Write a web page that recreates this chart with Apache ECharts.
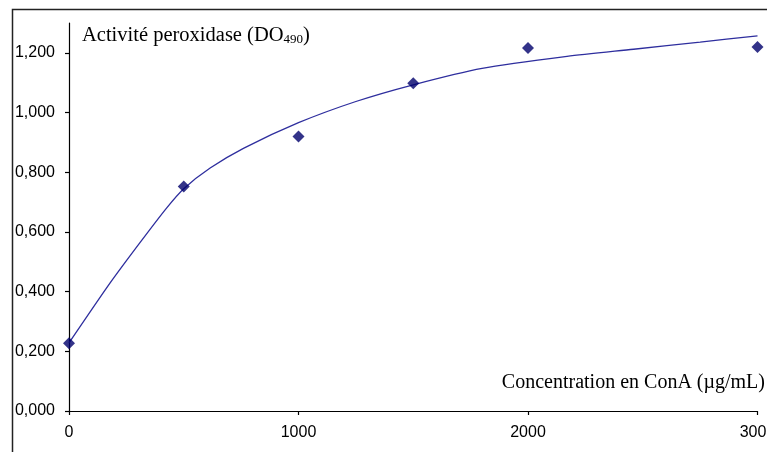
<!DOCTYPE html>
<html>
<head>
<meta charset="utf-8">
<script src="https://cdn.jsdelivr.net/npm/echarts@6/dist/echarts.min.js"></script>
<style>
html,body{margin:0;padding:0;background:#fff;}
#chart{width:767px;height:452px;}
</style>
</head>
<body>
<div id="chart"></div>
<script>
// Measured points (ConA concentration, peroxidase activity DO490)
var concX = [0, 500, 1000, 1500, 2000, 3000];
var activityY = [0.227, 0.752, 0.920, 1.098, 1.216, 1.220];
// Fitted curve
var curveX = [0, 180, 310, 425, 500, 615, 760, 1000, 1250, 1500, 1800, 2170, 2460, 2750, 3000];
var curveY = [0.228, 0.430, 0.565, 0.680, 0.745, 0.814, 0.880, 0.966, 1.037, 1.093, 1.148, 1.188, 1.212, 1.236, 1.257];
var yTicks = [0, 0.2, 0.4, 0.6, 0.8, 1.0, 1.2];
var xTicks = [0, 1000, 2000, 3000];
var yTitle = 'Activité peroxidase (DO';
var ySub = '490';
var xTitle = 'Concentration en ConA (µg/mL)';

var chart = echarts.init(document.getElementById('chart'), null, {renderer: 'canvas'});
var curveData = curveX.map(function (x, i) { return [x, curveY[i]]; });
var pointData = concX.map(function (x, i) { return [x, activityY[i]]; });

chart.setOption({
  animation: false,
  backgroundColor: '#fff',
  grid: {left: 69, right: 9.5, top: 23, bottom: 41, containLabel: false, outerBoundsMode: 'none'},
  xAxis: {
    type: 'value', min: 0, max: 3000, interval: 1000,
    splitLine: {show: false},
    axisLine: {show: true, onZero: false, lineStyle: {color: '#000', width: 1.2}},
    axisTick: {show: true, inside: false, length: 4, lineStyle: {color: '#000', width: 1.2}, customValues: xTicks},
    axisLabel: {show: true, margin: 14, color: '#000', fontFamily: 'Liberation Sans', fontSize: 16,
      customValues: xTicks, showMaxLabel: true, hideOverlap: false,
      formatter: function (v) { return String(v); }}
  },
  yAxis: {
    type: 'value', min: 0, max: 1.3,
    splitLine: {show: false},
    axisLine: {show: true, onZero: false, lineStyle: {color: '#000', width: 1.2}},
    axisTick: {show: true, inside: false, length: 4, lineStyle: {color: '#000', width: 1.2}, customValues: yTicks},
    axisLabel: {show: true, margin: 14, color: '#000', fontFamily: 'Liberation Sans', fontSize: 16,
      customValues: yTicks,
      formatter: function (v) { return v.toFixed(3).replace('.', ','); }}
  },
  graphic: [
    {type: 'rect', shape: {x: 12.5, y: 9.5, width: 900, height: 600}, style: {fill: null, stroke: '#222', lineWidth: 1.5}, silent: true, z: 100},
    {type: 'text', left: 82, top: 25, z: 100,
      style: {
        text: '{a|' + yTitle + '}{s|' + ySub + '}{a|)}',
        rich: {
          a: {fontFamily: 'Liberation Serif', fontSize: 20.5, fill: '#000', verticalAlign: 'bottom', lineHeight: 21},
          s: {fontFamily: 'Liberation Serif', fontSize: 13, fill: '#000', verticalAlign: 'bottom', lineHeight: 19}
        }
      }},
    {type: 'text', right: 2, top: 373, z: 100,
      style: {text: xTitle, fontFamily: 'Liberation Serif', fontSize: 20, fill: '#000'}}
  ],
  series: [
    {type: 'line', data: curveData, smooth: 0.25, showSymbol: false, clip: false,
      lineStyle: {color: '#2e2e9e', width: 1.3}, z: 2},
    {type: 'scatter', data: pointData, symbol: 'diamond', symbolSize: [12, 12], clip: false,
      itemStyle: {color: '#00006c'}, z: 3}
  ]
});
</script>
</body>
</html>
